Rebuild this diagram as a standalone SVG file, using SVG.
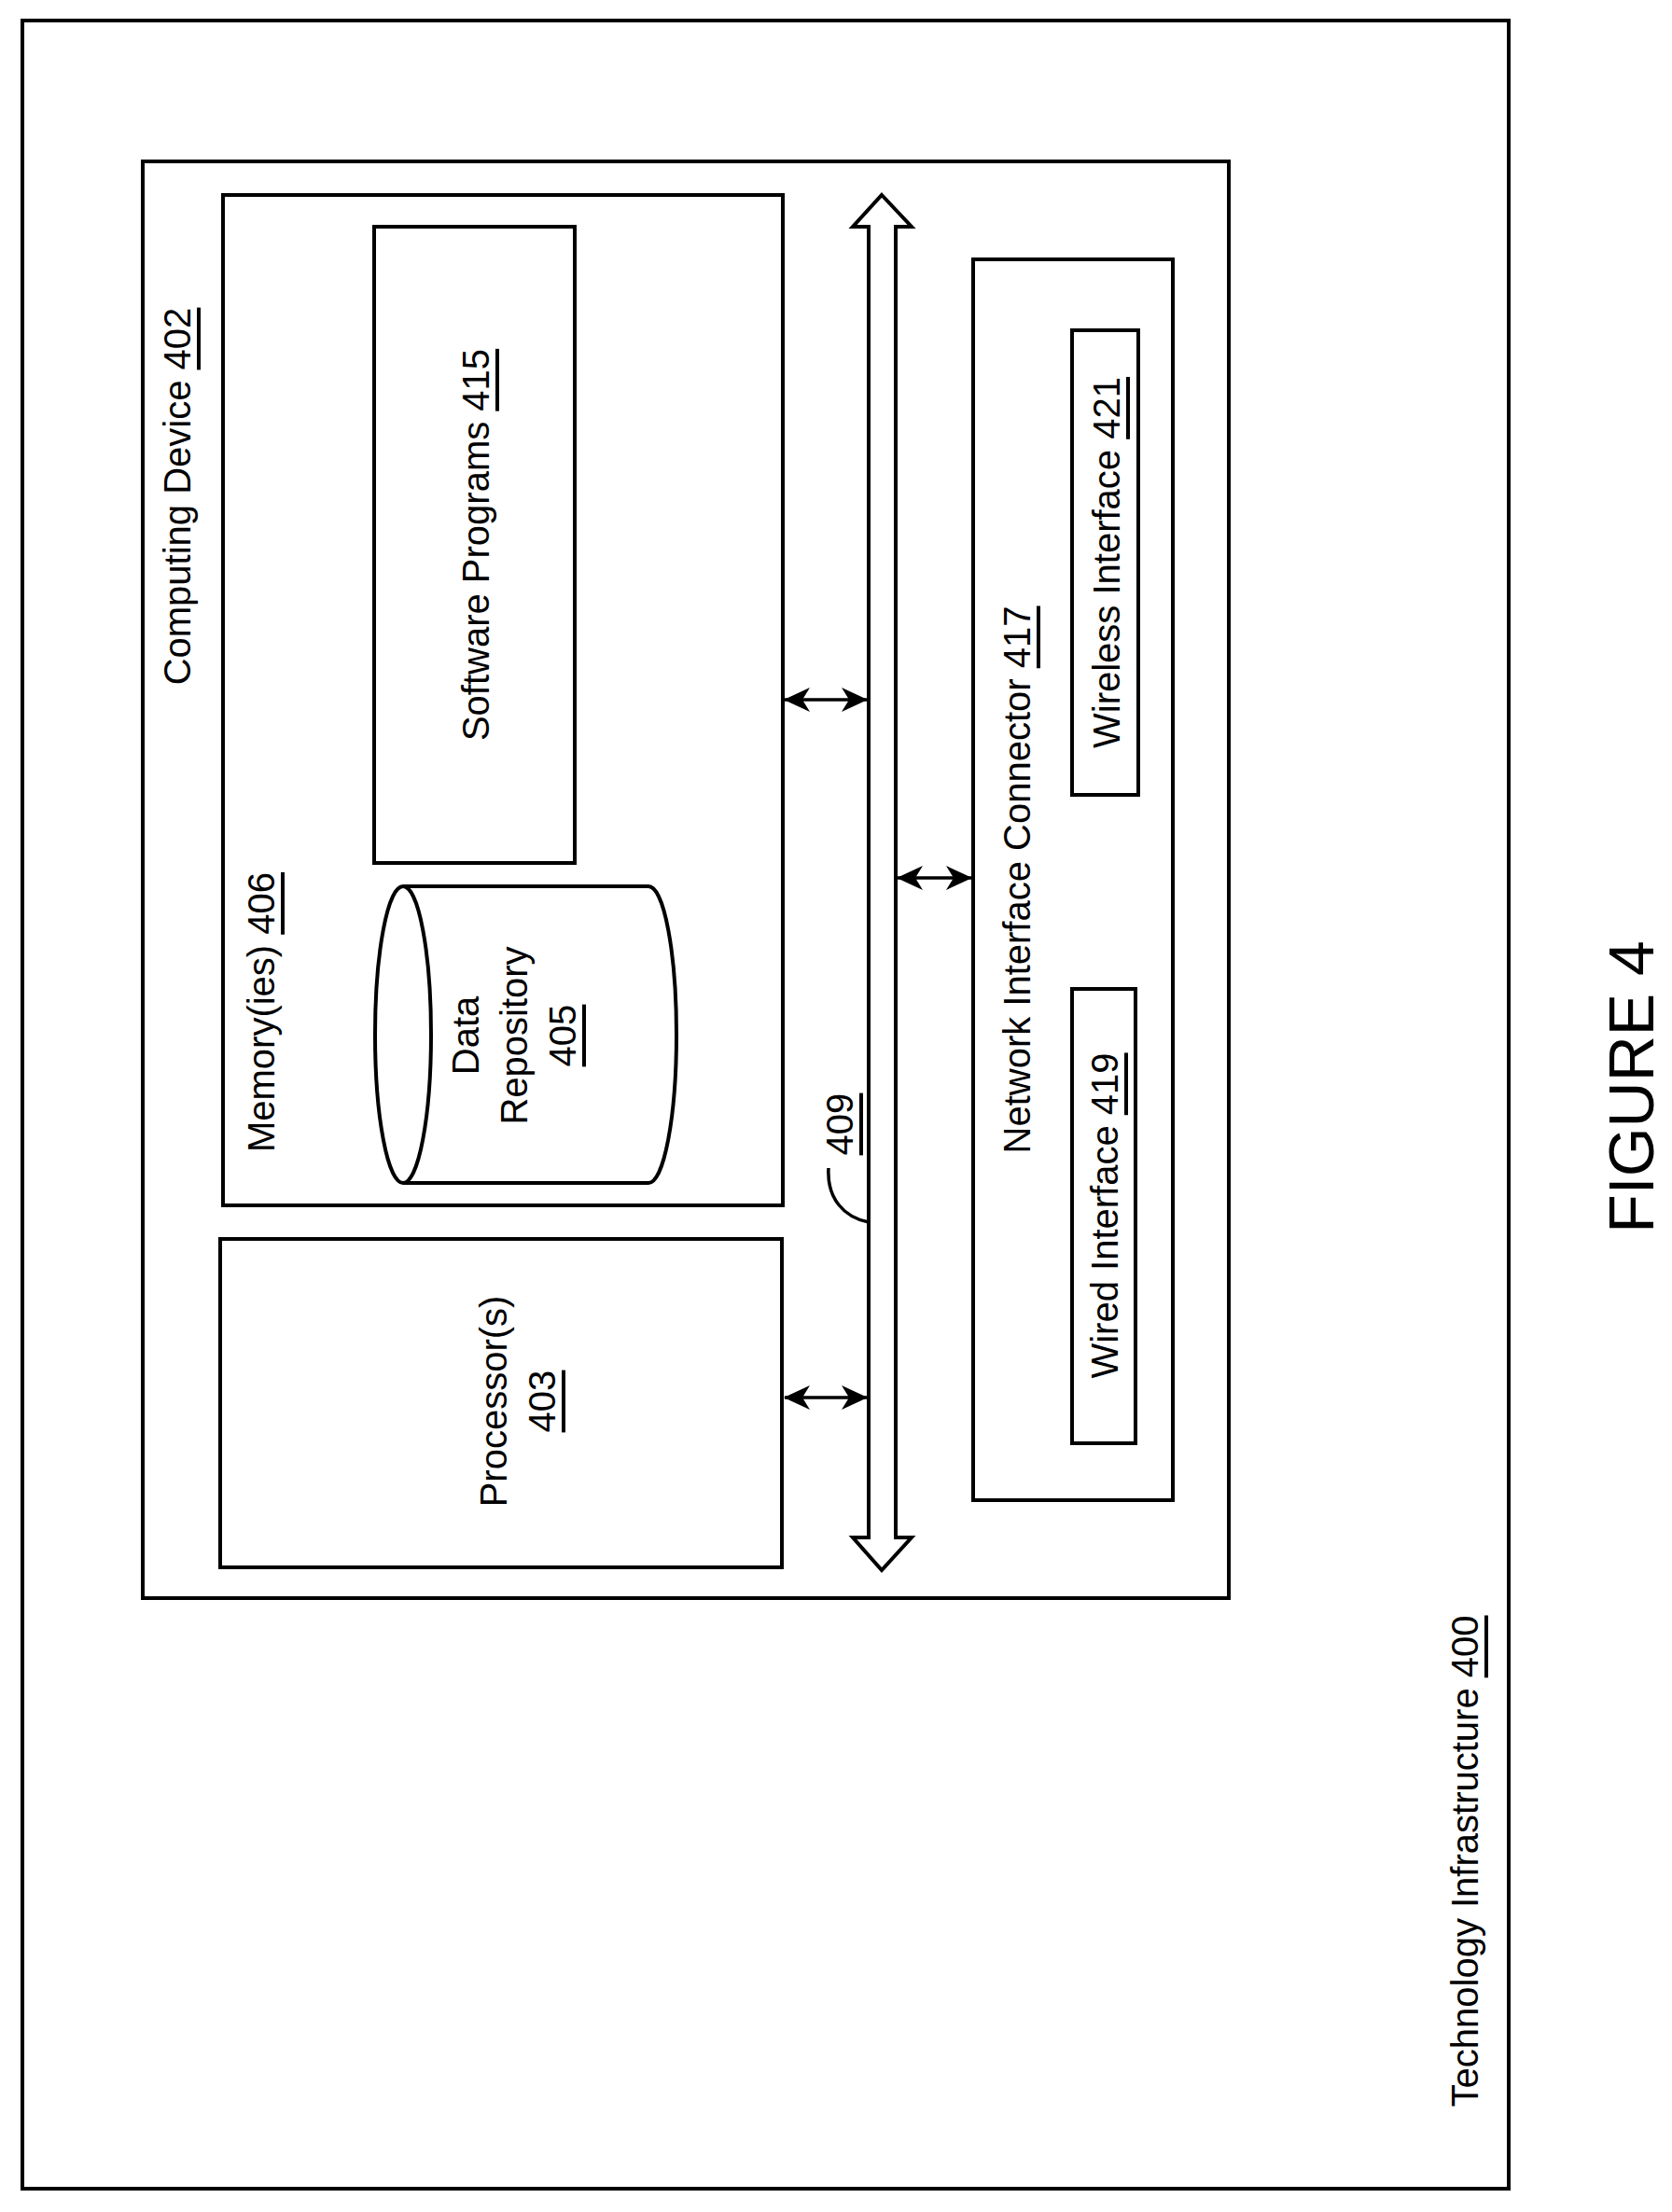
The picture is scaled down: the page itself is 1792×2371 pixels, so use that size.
<svg xmlns="http://www.w3.org/2000/svg" width="1792" height="2371" viewBox="0 0 1792 2371">
<style>
.b{fill:none;stroke:#000;stroke-width:4}
.t{font-family:"Liberation Sans",Arial,sans-serif;font-size:40px;fill:#000;text-anchor:middle;dominant-baseline:central}
.u{text-decoration:underline}
.c{fill:none;stroke:#000;stroke-width:3.5}
</style>
<defs>
<marker id="ah" markerWidth="10" markerHeight="10" refX="9" refY="5" orient="auto-start-reverse" markerUnits="userSpaceOnUse" viewBox="0 0 10 10">
<path d="M0,0 L10,5 L0,10 L3,5 Z" fill="#000" transform="scale(1)"/>
</marker>
<marker id="a2" markerWidth="28" markerHeight="26" refX="27" refY="13" orient="auto-start-reverse" markerUnits="userSpaceOnUse">
<path d="M0,0 L28,13 L0,26 L8,13 Z" fill="#000"/>
</marker>
</defs>
<rect width="1792" height="2371" fill="#fff"/>
<g id="infra">
<rect class="b" x="24" y="22" width="1593" height="2324"/>
<text class="t" transform="translate(1570,1995) rotate(-90)">Technology Infrastructure <tspan class="u">400</tspan></text>
</g>
<g id="device">
<rect class="b" x="153" y="173" width="1164" height="1540"/>
<text class="t" transform="translate(190,532) rotate(-90)">Computing Device <tspan class="u">402</tspan></text>
</g>
<g id="memory">
<rect class="b" x="239" y="209" width="600" height="1083"/>
<text class="t" transform="translate(280,1085) rotate(-90)">Memory(ies) <tspan class="u">406</tspan></text>
</g>
<g id="software">
<rect class="b" x="401" y="243" width="215" height="682"/>
<text class="t" transform="translate(510,584) rotate(-90)">Software Programs <tspan class="u">415</tspan></text>
</g>
<g id="repository">
<path class="b" d="M432,950 L695,950 A30,159 0 0 1 695,1268 L432,1268"/>
<ellipse class="b" cx="432" cy="1109" rx="30" ry="159"/>
<text class="t" transform="translate(551,1110) rotate(-90)"><tspan x="0" dy="-52">Data</tspan><tspan x="0" dy="52">Repository</tspan><tspan x="0" dy="52" class="u">405</tspan></text>
</g>
<g id="processor">
<rect class="b" x="236" y="1328" width="602" height="352"/>
<text class="t" transform="translate(555,1502) rotate(-90)"><tspan x="0" dy="-26">Processor(s)</tspan><tspan x="0" dy="52" class="u">403</tspan></text>
</g>
<g id="nic">
<rect class="b" x="1043" y="278" width="214" height="1330"/>
<text class="t" transform="translate(1090,943) rotate(-90)">Network Interface Connector <tspan class="u">417</tspan></text>
</g>
<g id="wireless">
<rect class="b" x="1149" y="354" width="71" height="498"/>
<text class="t" transform="translate(1186,603) rotate(-90)">Wireless Interface <tspan class="u">421</tspan></text>
</g>
<g id="wired">
<rect class="b" x="1149" y="1060" width="68" height="487"/>
<text class="t" transform="translate(1184,1303) rotate(-90)">Wired Interface <tspan class="u">419</tspan></text>
</g>
<g id="bus">
<path class="b" d="M945,209 L977,243 L960,243 L960,1648 L977,1648 L945,1683 L914,1648 L931,1648 L931,243 L914,243 Z"/>
<text class="t" transform="translate(900,1205) rotate(-90)"><tspan class="u">409</tspan></text>
<path class="c" d="M888,1252 C886,1285 905,1305 931,1310"/>
</g>
<g id="connectors">
<line class="c" x1="841" y1="750" x2="929" y2="750" marker-start="url(#a2)" marker-end="url(#a2)"/>
<line class="c" x1="841" y1="1498" x2="929" y2="1498" marker-start="url(#a2)" marker-end="url(#a2)"/>
<line class="c" x1="962" y1="941" x2="1041" y2="941" marker-start="url(#a2)" marker-end="url(#a2)"/>
</g>
<g id="figure">
<text class="t" style="font-size:68px" transform="translate(1748,1165) rotate(-90)">FIGURE 4</text>
</g>
</svg>
